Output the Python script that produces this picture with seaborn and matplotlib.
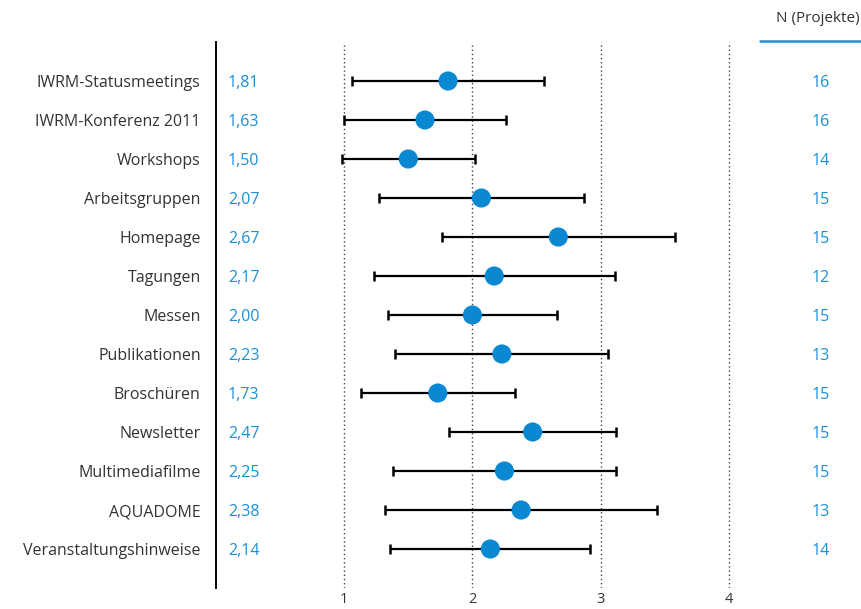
import matplotlib
matplotlib.use("Agg")
import matplotlib.pyplot as plt
import matplotlib.transforms as mtransforms
import seaborn as sns
import pandas as pd

# Kommunikationsinstrumente: Mittelwert, Standardabweichung, Anzahl Projekte
categories = [
    "IWRM-Statusmeetings", "IWRM-Konferenz 2011", "Workshops", "Arbeitsgruppen",
    "Homepage", "Tagungen", "Messen", "Publikationen", "Broschüren",
    "Newsletter", "Multimediafilme", "AQUADOME", "Veranstaltungshinweise",
]
means = [1.81, 1.63, 1.50, 2.07, 2.67, 2.17, 2.00, 2.23, 1.73, 2.47, 2.25, 2.38, 2.14]
std_devs = [0.75, 0.63, 0.52, 0.80, 0.91, 0.94, 0.66, 0.83, 0.60, 0.65, 0.87, 1.06, 0.78]
n_projects = [16, 16, 14, 15, 15, 12, 15, 13, 15, 15, 15, 13, 14]
x_ticks = [1, 2, 3, 4]

BLUE = "#0a88d2"
BLUE_TXT = "#1b8fd6"
GREY_TXT = "#333333"

sns.set_theme(style="white")
plt.rcParams["font.family"] = ["Open Sans", "DejaVu Sans"]

df = pd.DataFrame({"Instrument": categories, "Mittelwert": means,
                   "SD": std_devs, "N": n_projects})
df["pos"] = range(len(df))

W, H = 861, 609
TOP, BOTTOM = 42, 588
fig = plt.figure(figsize=(W / 100, H / 100), dpi=100)
ax = fig.add_axes([216 / W, 1 - BOTTOM / H, (W - 216) / W, (BOTTOM - TOP) / H])

# Standardabweichung als Fehlerbalken
ax.errorbar(df["Mittelwert"], df["pos"], xerr=df["SD"], fmt="none",
            ecolor="black", elinewidth=1.6, capsize=3.3, capthick=1.8, zorder=2)
# Mittelwerte als Punkte
sns.scatterplot(data=df, x="Mittelwert", y="pos", ax=ax, s=190, color=BLUE,
                edgecolor="none", zorder=3, legend=False)

ax.set_xlim(0, (W - 216) / 128.2)
# Zeilen im Abstand von 39 px, erste Zeile 39 px unter der Oberkante
ax.set_ylim(-1.0 + (BOTTOM - TOP) / 39.0, -1.0)

for xv in x_ticks:
    ax.axvline(xv, color="#444444", lw=1.0, ls=(0, (1, 2)), zorder=1)

ax.set_xticks(x_ticks)
ax.set_xticklabels([str(v) for v in x_ticks], fontsize=10.5, color=GREY_TXT)
ax.set_yticks(df["pos"])
ax.set_yticklabels(categories, fontsize=11.5, color=GREY_TXT)
ax.tick_params(axis="both", length=0)
ax.tick_params(axis="y", pad=11)
ax.tick_params(axis="x", pad=3)
ax.set_xlabel("")
ax.set_ylabel("")

for side in ["top", "right", "bottom"]:
    ax.spines[side].set_visible(False)
ax.spines["left"].set_color("black")
ax.spines["left"].set_linewidth(1.4)

# Mittelwerte als Zahlen neben der Achse, N-Spalte rechts
trans = mtransforms.blended_transform_factory(fig.transFigure, ax.transData)
for p, m, n in zip(df["pos"], df["Mittelwert"], df["N"]):
    ax.text(228 / W, p, f"{m:.2f}".replace(".", ","), transform=trans,
            ha="left", va="center_baseline", fontsize=11.5, color=BLUE_TXT)
    ax.text(821 / W, p, str(n), transform=trans,
            ha="center", va="center_baseline", fontsize=11.5, color=BLUE_TXT)

fig.text(776 / W, 1 - 19 / H, "N (Projekte)", ha="left", va="center",
         fontsize=11, color=GREY_TXT)
fig.add_artist(plt.Line2D([760 / W, 1.0], [1 - 41 / H, 1 - 41 / H],
                          transform=fig.transFigure, color="#2a8fd0", lw=1.8))

fig.savefig("out.png", dpi=100)
